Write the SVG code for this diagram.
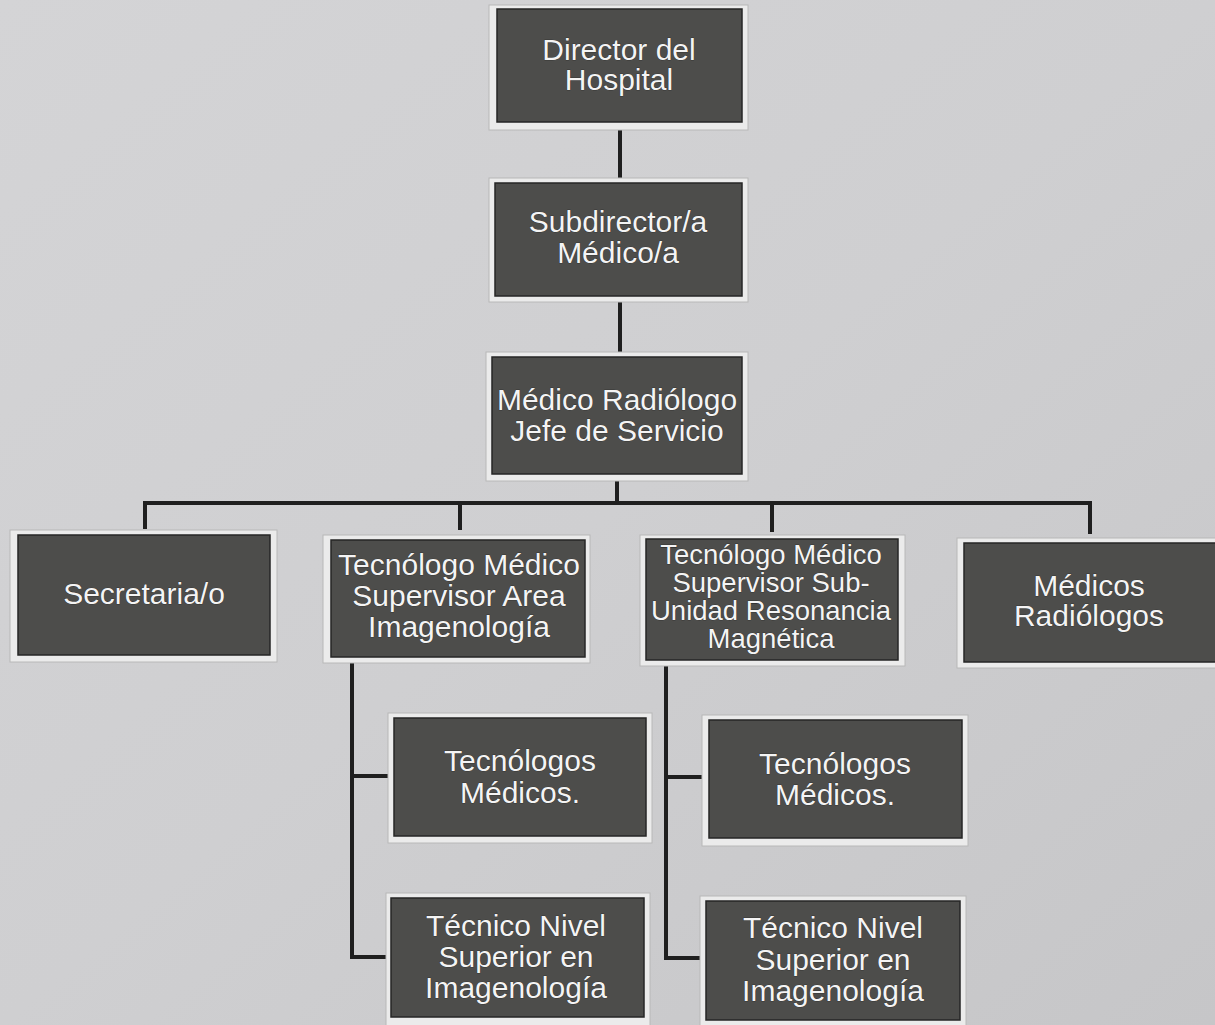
<svg xmlns="http://www.w3.org/2000/svg" width="1215" height="1025" viewBox="0 0 1215 1025">
<defs>
<linearGradient id="bg" x1="0" y1="0" x2="1" y2="1">
<stop offset="0" stop-color="#d4d4d6"/>
<stop offset="0.5" stop-color="#cfcfd1"/>
<stop offset="1" stop-color="#c6c6c8"/>
</linearGradient>
<style>
.frame{fill:#ebebeb;stroke:#b8b8b8;stroke-width:1}
.box{fill:#4d4d4b;stroke:#262626;stroke-width:1.5}
.t{font-family:"Liberation Sans",Arial,sans-serif;font-size:30px;fill:#f4f4f4;text-anchor:middle;stroke:#1e1e1e;stroke-width:0.6;paint-order:stroke}
.s{font-size:27.5px}
.ln{stroke:#1f1f1f;stroke-width:4;fill:none;stroke-linecap:square}
</style>
</defs>
<rect width="1215" height="1025" fill="url(#bg)"/>

<g id="connectors">
<path class="ln" d="M620 130 V178"/>
<path class="ln" d="M620 302 V352"/>
<path class="ln" d="M617 481 V503"/>
<path class="ln" d="M145 527 V503 H1090 V532"/>
<path class="ln" d="M460 503 V528"/>
<path class="ln" d="M772 503 V530"/>
<path class="ln" d="M352 664 V957 H386"/>
<path class="ln" d="M352 776 H388"/>
<path class="ln" d="M666 667 V958 H700"/>
<path class="ln" d="M666 777 H702"/>
</g>

<g id="director">
<rect class="frame" x="489" y="5" width="259" height="125"/>
<rect class="box" x="497" y="9" width="245" height="113"/>
<text class="t" x="619" y="60">Director del</text>
<text class="t" x="619" y="90">Hospital</text>
</g>

<g id="subdirector">
<rect class="frame" x="489" y="178" width="259" height="124"/>
<rect class="box" x="495" y="183" width="247" height="113"/>
<text class="t" x="618" y="232">Subdirector/a</text>
<text class="t" x="618" y="263">Médico/a</text>
</g>

<g id="jefe">
<rect class="frame" x="486" y="352" width="262" height="129"/>
<rect class="box" x="492" y="357" width="250" height="117"/>
<text class="t" x="617" y="410">Médico Radiólogo</text>
<text class="t" x="617" y="441">Jefe de Servicio</text>
</g>

<g id="secretaria">
<rect class="frame" x="10" y="530" width="267" height="132"/>
<rect class="box" x="18" y="535" width="252" height="120"/>
<text class="t" x="144" y="604">Secretaria/o</text>
</g>

<g id="supervisor-area">
<rect class="frame" x="323" y="535" width="267" height="128"/>
<rect class="box" x="331" y="540" width="254" height="117"/>
<text class="t" x="459" y="575">Tecnólogo Médico</text>
<text class="t" x="459" y="606">Supervisor Area</text>
<text class="t" x="459" y="637">Imagenología</text>
</g>

<g id="supervisor-rm">
<rect class="frame" x="640" y="535" width="265" height="131"/>
<rect class="box" x="646" y="539" width="252" height="121"/>
<text class="t s" x="771" y="564">Tecnólogo Médico</text>
<text class="t s" x="771" y="592">Supervisor Sub-</text>
<text class="t s" x="771" y="620">Unidad Resonancia</text>
<text class="t s" x="771" y="648">Magnética</text>
</g>

<g id="medicos-radiologos">
<rect class="frame" x="957" y="538" width="262" height="130"/>
<rect class="box" x="964" y="543" width="255" height="119"/>
<text class="t" x="1089" y="596">Médicos</text>
<text class="t" x="1089" y="626">Radiólogos</text>
</g>

<g id="tecnologos-1">
<rect class="frame" x="388" y="713" width="264" height="130"/>
<rect class="box" x="394" y="718" width="252" height="118"/>
<text class="t" x="520" y="771">Tecnólogos</text>
<text class="t" x="520" y="803">Médicos.</text>
</g>

<g id="tecnico-1">
<rect class="frame" x="386" y="893" width="264" height="136"/>
<rect class="box" x="391" y="898" width="253" height="119"/>
<text class="t" x="516" y="936">Técnico Nivel</text>
<text class="t" x="516" y="967">Superior en</text>
<text class="t" x="516" y="998">Imagenología</text>
</g>

<g id="tecnologos-2">
<rect class="frame" x="702" y="715" width="266" height="131"/>
<rect class="box" x="709" y="720" width="253" height="118"/>
<text class="t" x="835" y="774">Tecnólogos</text>
<text class="t" x="835" y="805">Médicos.</text>
</g>

<g id="tecnico-2">
<rect class="frame" x="700" y="896" width="266" height="135"/>
<rect class="box" x="706" y="901" width="254" height="119"/>
<text class="t" x="833" y="938">Técnico Nivel</text>
<text class="t" x="833" y="970">Superior en</text>
<text class="t" x="833" y="1001">Imagenología</text>
</g>
</svg>
